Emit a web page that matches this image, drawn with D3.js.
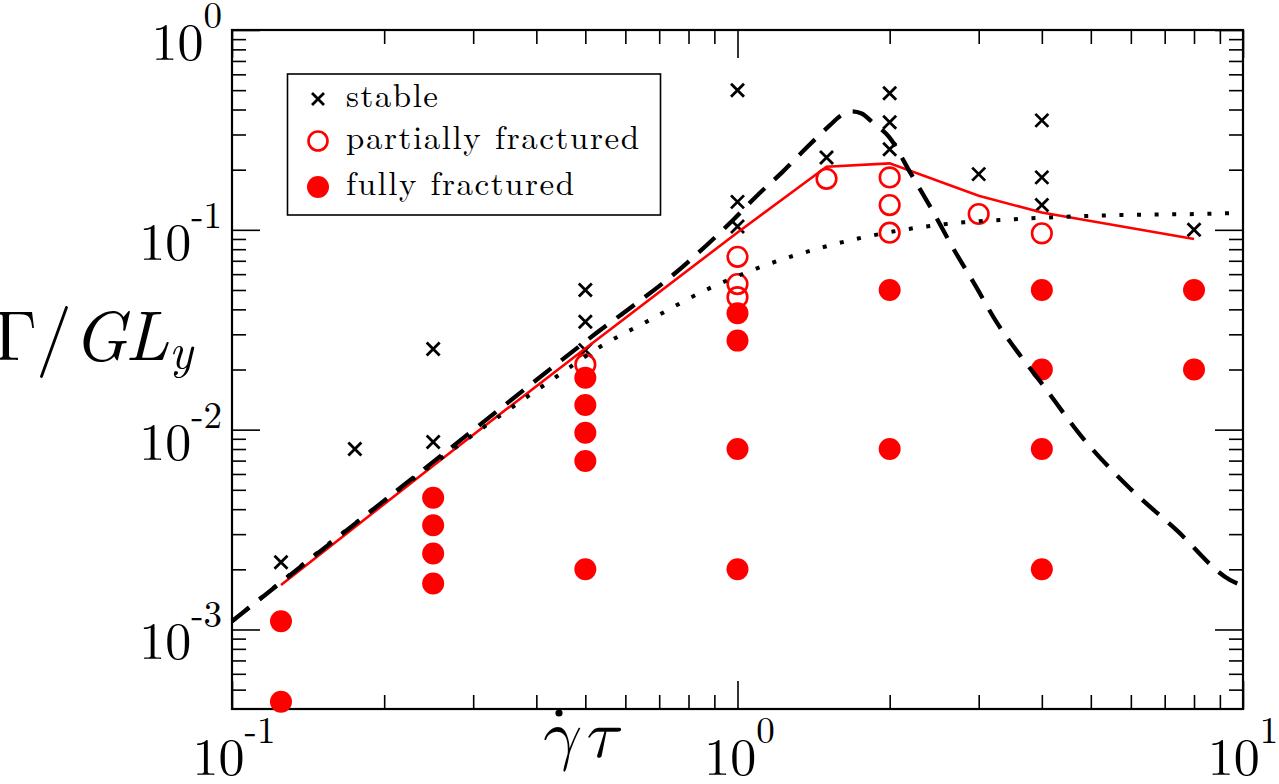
<!DOCTYPE html>
<html><head><meta charset="utf-8">
<script src="https://cdn.jsdelivr.net/npm/d3@7"></script>
<style>body{margin:0;background:#fff;} svg{display:block;}</style>
</head><body>
<svg id="chart" width="1279" height="784"></svg>
<script>
// ---- data ----
const stableX = [0.125, 0.175, 0.25, 0.25, 0.5, 0.5, 0.5, 1, 1, 1, 1.5, 2, 2, 2, 3, 4, 4, 4, 8];
const stableY = [0.00217, 0.008, 0.0253, 0.00867, 0.05, 0.0347, 0.025, 0.5, 0.138, 0.104, 0.23, 0.482, 0.345, 0.253, 0.19, 0.353, 0.183, 0.133, 0.1];

const partialX = [0.5, 1, 1, 1, 1.5, 2, 2, 2, 3, 4];
const partialY = [0.0212, 0.0733, 0.0535, 0.046, 0.18, 0.183, 0.133, 0.0968, 0.12, 0.096];

const fullX = [0.125, 0.125, 0.25, 0.25, 0.25, 0.25, 0.5, 0.5, 0.5, 0.5, 0.5, 1, 1, 1, 1, 2, 2, 4, 4, 4, 4, 8, 8];
const fullY = [0.0011, 0.000435, 0.00456, 0.00332, 0.0024, 0.0017, 0.0182, 0.0133, 0.00966, 0.00697, 0.002, 0.0382, 0.0279, 0.008, 0.002, 0.05, 0.008, 0.05, 0.02, 0.008, 0.002, 0.05, 0.02];

const simX = [0.125, 0.25, 0.5, 1, 1.5, 2, 3, 4, 8];
const simY = [0.00167, 0.0066, 0.0255, 0.097, 0.207, 0.215, 0.148, 0.122, 0.09];

const dashX = [0.1, 0.25, 0.5, 0.793, 0.98, 1.104, 1.228, 1.366, 1.524, 1.6, 1.68, 1.76, 1.85, 1.994, 2.2, 2.43, 2.67, 2.95, 3.25, 3.56, 4.0, 4.8, 5.93, 7.39, 9.42, 10];
const dashY = [0.0011, 0.0069, 0.0276, 0.068, 0.112, 0.152, 0.195, 0.256, 0.334, 0.372, 0.392, 0.382, 0.345, 0.292, 0.192, 0.125, 0.081, 0.053, 0.0347, 0.025, 0.017, 0.0092, 0.00518, 0.00314, 0.00177, 0.00165];

const dotX = [0.1, 0.2, 0.309, 0.438, 0.535, 0.661, 0.866, 1.09, 1.48, 2.03, 2.8, 3.3, 5.3, 9.29, 10];
const dotY = [0.0011, 0.0044, 0.00995, 0.0184, 0.026, 0.0347, 0.05, 0.064, 0.082, 0.098, 0.109, 0.112, 0.118, 0.121, 0.122];

const xMajorTicks = [0.1, 1, 10];
const xTickExponents = ["-1", "0", "1"];
const yMajorTicks = [0.001, 0.01, 0.1, 1];
const yTickExponents = ["-3", "-2", "-1", "0"];
const legendLabels = ["stable", "partially fractured", "fully fractured"];

// ---- layout ----
const svg = d3.select("#chart");
const L = 232, R = 1243, T = 30, B = 709;
const x = d3.scaleLog().domain([0.1, 10]).range([L, R]);
const y = d3.scaleLog().domain([4e-4, 1]).range([B, T]);
const lm = "'Latin Modern Roman', 'Liberation Serif', serif";
const lmMath = "'Latin Modern Math', 'Latin Modern Roman', 'Liberation Serif', serif";

const xMinor = [];
[0.1, 1].forEach(d => { for (let m = 2; m <= 9; m++) xMinor.push(+(d * m).toPrecision(3)); });
const yMinor = [];
[1e-4, 1e-3, 1e-2, 1e-1].forEach(d => { for (let m = 2; m <= 9; m++) { const v = +(d * m).toPrecision(3); if (v > 4e-4) yMinor.push(v); } });

function axisGroup(axisFn, scale, vals, size, transform) {
  const g = svg.append("g").attr("transform", transform)
    .call(axisFn(scale).tickValues(vals).tickSize(size).tickFormat(""));
  g.select(".domain").remove();
  g.selectAll(".tick line").attr("stroke", "#000").attr("stroke-width", 1.6);
  return g;
}
axisGroup(d3.axisBottom, x, xMinor, -14, `translate(0,${B})`);
axisGroup(d3.axisBottom, x, xMajorTicks, -28, `translate(0,${B})`);
axisGroup(d3.axisTop, x, xMinor, -14, `translate(0,${T})`);
axisGroup(d3.axisTop, x, xMajorTicks, -28, `translate(0,${T})`);
axisGroup(d3.axisLeft, y, yMinor, -14, `translate(${L},0)`);
axisGroup(d3.axisLeft, y, yMajorTicks, -28, `translate(${L},0)`);
axisGroup(d3.axisRight, y, yMinor, -14, `translate(${R},0)`);
axisGroup(d3.axisRight, y, yMajorTicks, -28, `translate(${R},0)`);

svg.append("rect").attr("x", L).attr("y", T).attr("width", R - L).attr("height", B - T)
  .attr("fill", "none").attr("stroke", "#000").attr("stroke-width", 2.2);

// tick labels
xMajorTicks.forEach((v, i) => {
  const cx = Math.min(x(v) + 2, 1243);
  const t = svg.append("text").attr("x", cx).attr("y", 775).attr("text-anchor", "middle")
    .attr("font-family", lm).attr("font-size", 52).text("10");
  t.append("tspan").attr("dy", -32).attr("font-size", 37).text(xTickExponents[i]);
});
yMajorTicks.forEach((v, i) => {
  const t = svg.append("text").attr("x", 222).attr("y", y(v) + 30).attr("text-anchor", "end")
    .attr("font-family", lm).attr("font-size", 52).text("10");
  t.append("tspan").attr("dy", -32).attr("font-size", 37).text(yTickExponents[i]);
});

// axis titles
const yl = svg.append("g").attr("fill", "#000");
yl.append("text").attr("x", 37).attr("y", 360).attr("text-anchor", "end").attr("font-family", lmMath).attr("font-size", 70).text("Γ");
yl.append("text").attr("x", 54).attr("y", 360).attr("text-anchor", "middle").attr("font-family", lm).attr("font-size", 72).text("/");
yl.append("text").attr("x", 73).attr("y", 360).attr("font-family", lm).attr("font-size", 70).attr("font-style", "italic").text("G");
yl.append("text").attr("x", 125).attr("y", 360).attr("font-family", lm).attr("font-size", 70).attr("font-style", "italic").text("L");
yl.append("text").attr("x", 169).attr("y", 368).attr("font-family", lm).attr("font-size", 49).attr("font-style", "italic").text("y");

const xl = svg.append("g").attr("fill", "#000");
xl.append("text").attr("x", 538).attr("y", 757).attr("font-family", lmMath).attr("font-style", "italic").attr("font-size", 68).text("γ");
xl.append("text").attr("x", 583).attr("y", 757).attr("font-family", lmMath).attr("font-style", "italic").attr("font-size", 68).text("τ");
xl.append("circle").attr("cx", 559).attr("cy", 713).attr("r", 3.6).attr("fill", "#000");

// markers
function cross(g, cx, cy, h) {
  g.append("path").attr("d", `M${cx - h},${cy - h}L${cx + h},${cy + h}M${cx - h},${cy + h}L${cx + h},${cy - h}`)
    .attr("stroke", "#000").attr("stroke-width", 2.8).attr("fill", "none");
}
const gm = svg.append("g");
stableX.forEach((v, i) => cross(gm, x(v), y(stableY[i]), 6.5));
gm.selectAll("circle.p").data(partialX).join("circle").attr("class", "p")
  .attr("cx", d => x(d)).attr("cy", (d, i) => y(partialY[i])).attr("r", 9.8)
  .attr("fill", "none").attr("stroke", "#ff0000").attr("stroke-width", 2.6);
gm.selectAll("circle.f").data(fullX).join("circle").attr("class", "f")
  .attr("cx", d => x(d)).attr("cy", (d, i) => y(fullY[i])).attr("r", 11)
  .attr("fill", "#ff0000");

// lines
const lineLin = d3.line().x(d => x(d[0])).y(d => y(d[1]));
const lineSmooth = d3.line().x(d => x(d[0])).y(d => y(d[1])).curve(d3.curveMonotoneX);
svg.append("path").datum(simX.map((v, i) => [v, simY[i]])).attr("d", lineLin)
  .attr("fill", "none").attr("stroke", "#ff0000").attr("stroke-width", 2.6);
svg.append("path").datum(dashX.map((v, i) => [v, dashY[i]])).attr("d", lineSmooth)
  .attr("fill", "none").attr("stroke", "#000").attr("stroke-width", 4.3).attr("stroke-dasharray", "22,13");
svg.append("path").datum(dotX.map((v, i) => [v, dotY[i]])).attr("d", lineSmooth)
  .attr("fill", "none").attr("stroke", "#000").attr("stroke-width", 4).attr("stroke-dasharray", "4,13.6");

// legend
const lg = svg.append("g");
lg.append("rect").attr("x", 287.5).attr("y", 74).attr("width", 373).attr("height", 141)
  .attr("fill", "#fff").attr("stroke", "#000").attr("stroke-width", 1.6);
const ly = [99, 141, 187];
const lw = [92, 293, 228];
cross(lg, 318, ly[0], 6);
lg.append("circle").attr("cx", 318).attr("cy", ly[1]).attr("r", 9.5).attr("fill", "none").attr("stroke", "#ff0000").attr("stroke-width", 2.6);
lg.append("circle").attr("cx", 318).attr("cy", ly[2]).attr("r", 11).attr("fill", "#ff0000");
legendLabels.forEach((s, i) => {
  lg.append("text").attr("x", 346).attr("y", ly[i] + 8).attr("font-family", lm).attr("font-size", 33)
    .attr("textLength", lw[i]).attr("lengthAdjust", "spacing").text(s);
});
</script>
</body></html>
